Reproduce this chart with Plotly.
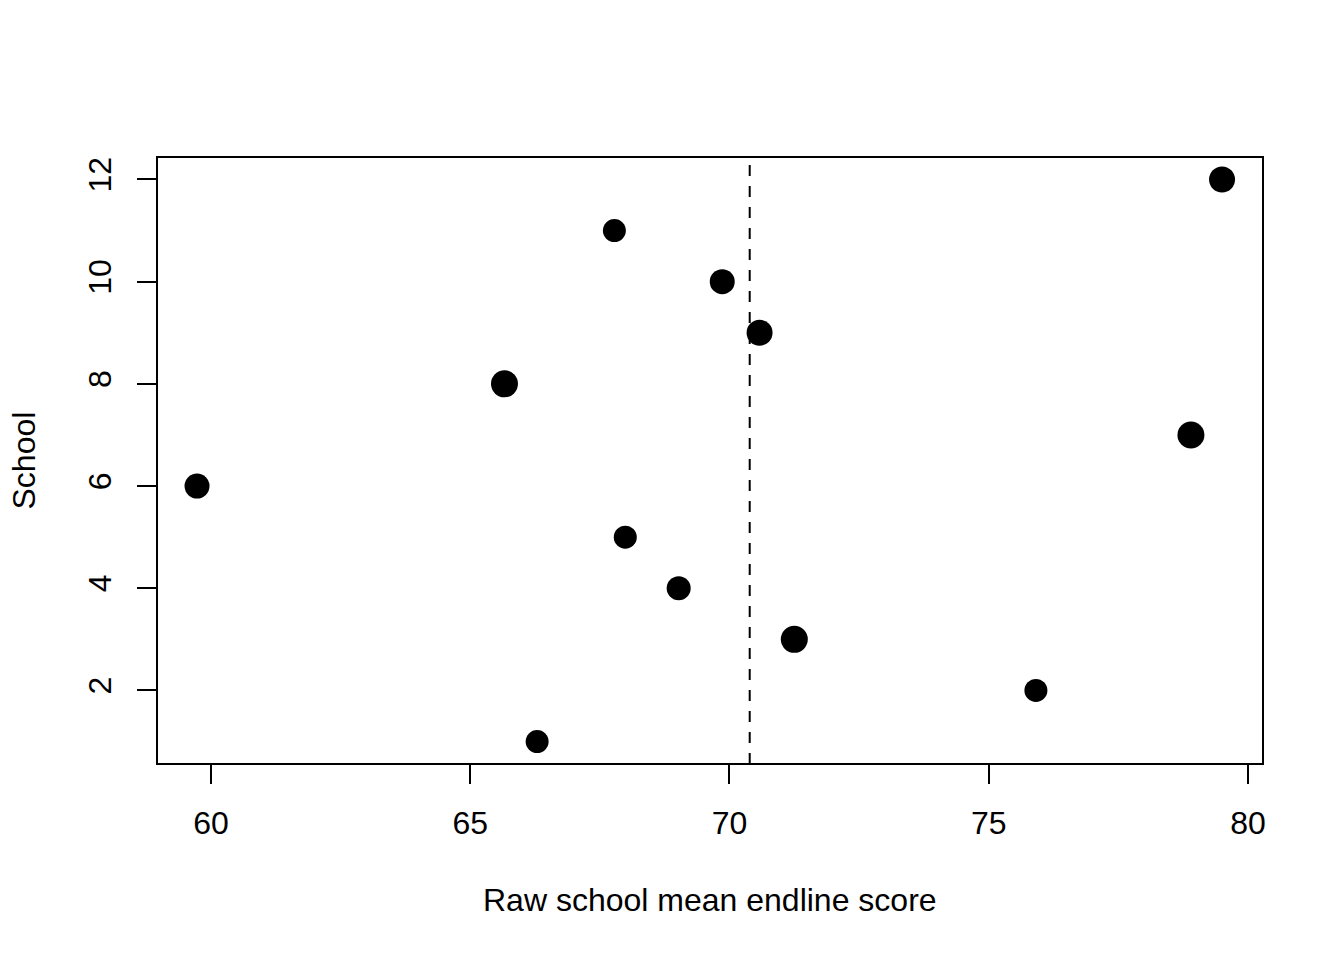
import plotly.graph_objects as go

schools = [1, 2, 3, 4, 5, 6, 7, 8, 9, 10, 11, 12]
mean_scores = [66.29, 75.91, 71.25, 69.02, 67.99, 59.73, 78.90, 65.66, 70.58, 69.86, 67.78, 79.50]
point_sizes = [23, 23, 27, 24, 23, 25, 27, 27, 26, 25, 23, 26]
overall_mean = 70.39

x_ticks = [60, 65, 70, 75, 80]
y_ticks = [2, 4, 6, 8, 10, 12]

FONT = "Liberation Sans, Arial, Helvetica, sans-serif"

fig = go.Figure()
fig.add_trace(go.Scatter(
    x=mean_scores, y=schools, mode="markers",
    marker=dict(color="black", size=point_sizes, opacity=1, line=dict(width=0)),
    opacity=1, hoverinfo="skip", showlegend=False,
))

fig.add_shape(type="line", xref="x", yref="paper", x0=overall_mean, x1=overall_mean,
              y0=0, y1=1, line=dict(color="black", width=2, dash="11px,10px"))
fig.add_shape(type="rect", xref="paper", yref="paper", x0=0, x1=1, y0=0, y1=1,
              line=dict(color="black", width=2))

fig.update_layout(
    width=1344, height=960,
    margin=dict(l=149, r=89, t=149, b=204),
    paper_bgcolor="white", plot_bgcolor="white",
    font=dict(family=FONT, size=32, color="black"),
    xaxis=dict(range=[58.958, 80.29], tickvals=x_ticks, ticktext=[str(v) for v in x_ticks],
               ticks="outside", ticklen=19, tickwidth=2, tickcolor="black",
               showgrid=False, zeroline=False, showline=False,
               ticklabelstandoff=12, tickfont=dict(size=32)),
    yaxis=dict(range=[0.56, 12.44], tickvals=y_ticks, ticktext=[str(v) for v in y_ticks],
               ticks="outside", ticklen=19, tickwidth=2, tickcolor="black",
               showgrid=False, zeroline=False, showline=False, tickangle=-90,
               ticklabelstandoff=13, tickfont=dict(size=32)),
    annotations=[
        dict(text="Raw school mean endline score", xref="paper", yref="paper",
             x=0.5, y=0, xanchor="center", yanchor="middle", yshift=-136,
             showarrow=False, font=dict(size=32)),
        dict(text="School", xref="paper", yref="paper", x=0, y=0.5,
             xanchor="center", yanchor="middle", xshift=-134, textangle=-90,
             showarrow=False, font=dict(size=32)),
    ],
)

fig.write_html("out.html")
